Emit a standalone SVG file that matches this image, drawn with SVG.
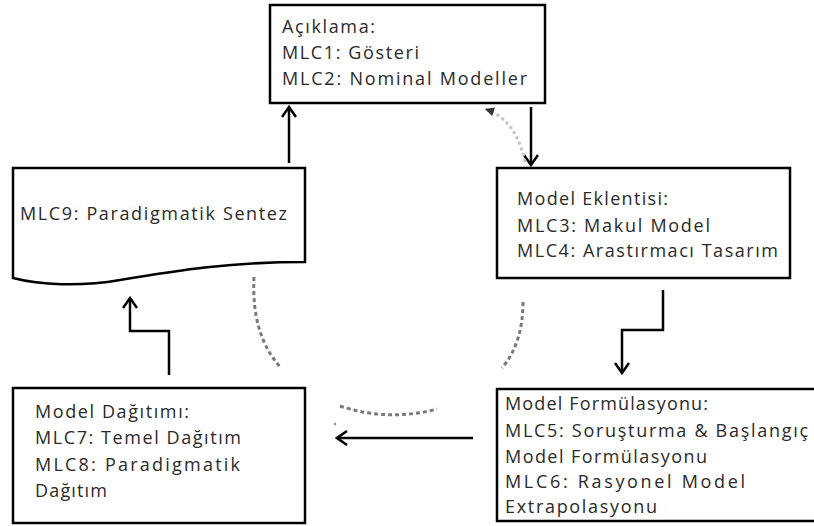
<svg xmlns="http://www.w3.org/2000/svg" width="814" height="526" viewBox="0 0 814 526">
  <style>
    .box { fill: #ffffff; stroke: #000000; stroke-width: 2.5; }
    .lbl { font-family: "Open Sans", "DejaVu Sans", sans-serif; font-size: 18px; fill: #2a2a2a; }
    .flow { fill: none; stroke: #000000; stroke-width: 2.5; }
    .cycle { fill: none; stroke: #7a7a7a; stroke-width: 3; stroke-dasharray: 4 3; }
    .cycle-light { fill: none; stroke: #c4c4c4; stroke-width: 3; stroke-dasharray: 3 3; }
  </style>
  <defs>
    <marker id="chevron" viewBox="-12 -8 14 16" markerWidth="14" markerHeight="16" refX="0" refY="0" orient="auto" markerUnits="userSpaceOnUse">
      <polyline points="-10,-7 0,0 -10,7" fill="none" stroke="#000000" stroke-width="2.5"/>
    </marker>
    <marker id="tip" viewBox="-10 -6 12 12" markerWidth="12" markerHeight="12" refX="0" refY="0" orient="auto" markerUnits="userSpaceOnUse">
      <path d="M-9,-4.5 L0,0 L-9,4.5 Z" fill="#333333"/>
    </marker>
  </defs>

  <rect width="814" height="526" fill="#ffffff"/>

  <!-- connectors -->
  <g id="connectors">
    <path class="flow" d="M289,163 V107" marker-end="url(#chevron)"/>
    <path class="flow" d="M531,107 V165" marker-end="url(#chevron)"/>
    <path class="flow" d="M663,290 V330 H622 V373" marker-end="url(#chevron)"/>
    <path class="flow" d="M473,438 H337" marker-end="url(#chevron)"/>
    <path class="flow" d="M169,375 V331 H130 V298" marker-end="url(#chevron)"/>

    <path class="cycle-light" d="M525,162 Q516,119 485,109" marker-end="url(#tip)"/>
    <path class="cycle" d="M523,302 Q523,343 502,368"/>
    <path class="cycle" d="M340,406 Q388,422 437,409"/>
    <path class="cycle" d="M254,277 Q251,335 281,368"/>
    <circle cx="335" cy="424" r="1.2" fill="#888888"/>
  </g>

  <!-- Açıklama -->
  <g id="node-aciklama">
    <rect class="box" x="270" y="5" width="275" height="98"/>
    <text class="lbl" x="282" y="33" textLength="93" lengthAdjust="spacing">Açıklama:</text>
    <text class="lbl" x="282" y="59" textLength="137" lengthAdjust="spacing">MLC1: Gösteri</text>
    <text class="lbl" x="282" y="85" textLength="245" lengthAdjust="spacing">MLC2: Nominal Modeller</text>
  </g>

  <!-- Model Eklentisi -->
  <g id="node-eklenti">
    <rect class="box" x="497" y="168" width="293" height="110"/>
    <text class="lbl" x="517" y="205" textLength="151" lengthAdjust="spacing">Model Eklentisi:</text>
    <text class="lbl" x="517" y="232" textLength="193" lengthAdjust="spacing">MLC3: Makul Model</text>
    <text class="lbl" x="517" y="257" textLength="261" lengthAdjust="spacing">MLC4: Arastırmacı Tasarım</text>
  </g>

  <!-- Model Formülasyonu -->
  <g id="node-formulasyon">
    <rect class="box" x="497" y="389" width="330" height="132"/>
    <text class="lbl" x="505" y="410" textLength="203" lengthAdjust="spacing">Model Formülasyonu:</text>
    <text class="lbl" x="505" y="437" textLength="303" lengthAdjust="spacing">MLC5: Soruşturma &amp; Başlangıç</text>
    <text class="lbl" x="505" y="463" textLength="202" lengthAdjust="spacing">Model Formülasyonu</text>
    <text class="lbl" x="505" y="488" textLength="240" lengthAdjust="spacing">MLC6: Rasyonel Model</text>
    <text class="lbl" x="505" y="513" textLength="152" lengthAdjust="spacing">Extrapolasyonu</text>
  </g>

  <!-- Model Dağıtımı -->
  <g id="node-dagitim">
    <rect class="box" x="13" y="388" width="292" height="135"/>
    <text class="lbl" x="35" y="418" textLength="154" lengthAdjust="spacing">Model Dağıtımı:</text>
    <text class="lbl" x="35" y="444" textLength="206" lengthAdjust="spacing">MLC7: Temel Dağıtım</text>
    <text class="lbl" x="35" y="471" textLength="205" lengthAdjust="spacing">MLC8: Paradigmatik</text>
    <text class="lbl" x="35" y="497" textLength="72" lengthAdjust="spacing">Dağıtım</text>
  </g>

  <!-- Paradigmatik Sentez (document shape) -->
  <g id="node-sentez">
    <path class="box" d="M13,168 H305 V262 C230,262 180,270 120,280 C80,287 40,285 13,278 Z"/>
    <text class="lbl" x="20" y="220" textLength="267" lengthAdjust="spacing">MLC9: Paradigmatik Sentez</text>
  </g>
</svg>
